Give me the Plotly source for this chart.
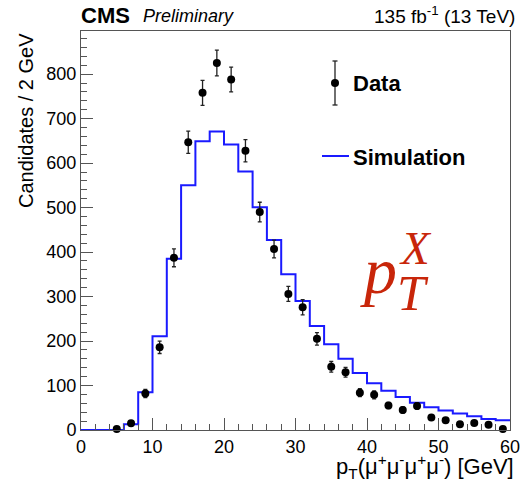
import plotly.graph_objects as go

# ---- data ----
data_x = [5, 7, 9, 11, 13, 15, 17, 19, 21, 23, 25, 27, 29, 31, 33, 35, 37, 39,
          41, 43, 45, 47, 49, 51, 53, 55, 57, 59]
data_y = [2, 15, 82, 186, 387, 647, 758, 825, 788, 628, 490, 407, 306, 276, 205,
          142, 130, 84, 79, 55, 45, 54, 28, 22, 13, 16, 12, 2]
data_err = [1, 4, 9, 14, 20, 25, 28, 29, 28, 25, 22, 20, 17, 17, 14, 12, 11, 9,
            9, 7, 7, 7, 5, 5, 4, 4, 3, 1]

sim_edges = list(range(0, 62, 2))
sim_vals = [0, 0, 0, 13, 85, 211, 385, 550, 649, 671, 642, 581, 501, 427, 350,
            290, 234, 193, 160, 128, 105, 88, 74, 61, 51, 44, 37, 31, 25, 22]

x_ticks = [0, 10, 20, 30, 40, 50, 60]
y_ticks = [0, 100, 200, 300, 400, 500, 600, 700, 800]

SANS = "Liberation Sans, Arial, Helvetica, sans-serif"
SERIF = "Liberation Serif, Times New Roman, serif"
RED = "#c8260a"
BLUE = "#1a1aff"
FRAME = "#555555"

W, H = 520, 485
L, R, T, B = 81, 10, 31, 55
pw, ph = W - L - R, H - T - B


def px2paper(px, py):
    return (px - L) / pw, 1 - (py - T) / ph


fig = go.Figure()

fig.add_trace(go.Scatter(
    x=sim_edges, y=sim_vals + [sim_vals[-1]],
    mode="lines", line=dict(color=BLUE, width=2, shape="hv"),
    name="Simulation", showlegend=False, cliponaxis=False,
))

fig.add_trace(go.Scatter(
    x=data_x, y=data_y, mode="markers",
    marker=dict(color="black", size=8),
    error_y=dict(type="data", array=data_err, color="#222222", thickness=1.3, width=2),
    name="Data", showlegend=False, cliponaxis=False,
))

axis_common = dict(
    showline=True, linecolor=FRAME, linewidth=1, mirror=True,
    ticks="inside", ticklen=12, tickcolor=FRAME, tickwidth=1,
    showgrid=False, zeroline=False, ticklabeloverflow="allow", automargin=False,
    tickfont=dict(family=SANS, size=18, color="black"),
)

fig.update_xaxes(
    range=[0, 60], tickvals=x_ticks,
    minor=dict(ticks="inside", dtick=2, ticklen=6, tickcolor=FRAME, showgrid=False),
    **axis_common,
)
fig.update_yaxes(
    range=[0, 897], tickvals=y_ticks,
    minor=dict(ticks="inside", dtick=20, ticklen=6, tickcolor=FRAME, showgrid=False),
    **axis_common,
)


def ann(px, py, text, size, family=SANS, color="black", xanchor="left",
        yanchor="middle", **kw):
    x, y = px2paper(px, py)
    return dict(x=x, y=y, xref="paper", yref="paper", xanchor=xanchor,
                yanchor=yanchor, text=text, showarrow=False,
                font=dict(family=family, size=size, color=color), **kw)


annotations = [
    # header
    ann(79, 15, "<b>CMS</b>", 22),
    ann(141, 16, "<i>Preliminary</i>", 18),
    ann(517, 15, "135 fb<sup>-1</sup> (13 TeV)", 19, xanchor="right"),
    # axis titles
    ann(26, 121, "Candidates / 2 GeV", 20, xanchor="center", textangle=-90),
    ann(516, 466, "p<sub>T</sub>(μ<sup>+</sup>μ<sup>-</sup>μ<sup>+</sup>μ<sup>-</sup>) [GeV]",
        22, xanchor="right"),
    # legend texts
    ann(351, 84, "<b>Data</b>", 22),
    ann(351, 157, "<b>Simulation</b>", 22),
    # big red label
    ann(358, 270, "<i>p</i>", 66, family=SERIF, color=RED),
    ann(397, 248, "<i>X</i>", 47, family=SERIF, color=RED),
    ann(395, 293, "<i>T</i>", 51, family=SERIF, color=RED),
]

# legend symbols
ex = px2paper(335, 0)[0]
ey0, ey1, ey = px2paper(0, 61)[1], px2paper(0, 105)[1], px2paper(0, 83)[1]
cap = 2.5 / pw
shapes = [
    dict(type="line", xref="paper", yref="paper", x0=ex, x1=ex, y0=ey0, y1=ey1,
         line=dict(color="#222222", width=1.3)),
    dict(type="line", xref="paper", yref="paper", x0=ex - cap, x1=ex + cap, y0=ey0, y1=ey0,
         line=dict(color="#222222", width=1.3)),
    dict(type="line", xref="paper", yref="paper", x0=ex - cap, x1=ex + cap, y0=ey1, y1=ey1,
         line=dict(color="#222222", width=1.3)),
    dict(type="circle", xref="paper", yref="paper",
         x0=ex - 4 / pw, x1=ex + 4 / pw, y0=ey - 4 / ph, y1=ey + 4 / ph,
         fillcolor="black", line=dict(color="black", width=0)),
    dict(type="line", xref="paper", yref="paper",
         x0=px2paper(322, 0)[0], x1=px2paper(349, 0)[0],
         y0=px2paper(0, 156)[1], y1=px2paper(0, 156)[1],
         line=dict(color=BLUE, width=2)),
]

fig.update_layout(
    width=W, height=H,
    margin=dict(l=L, r=R, t=T, b=B, autoexpand=False),
    plot_bgcolor="white", paper_bgcolor="white",
    showlegend=False,
    annotations=annotations, shapes=shapes,
    font=dict(family=SANS),
)

fig.write_html("out.html", config={"displayModeBar": False},
               post_script="document.body.style.margin='0';document.body.style.overflow='hidden';")
